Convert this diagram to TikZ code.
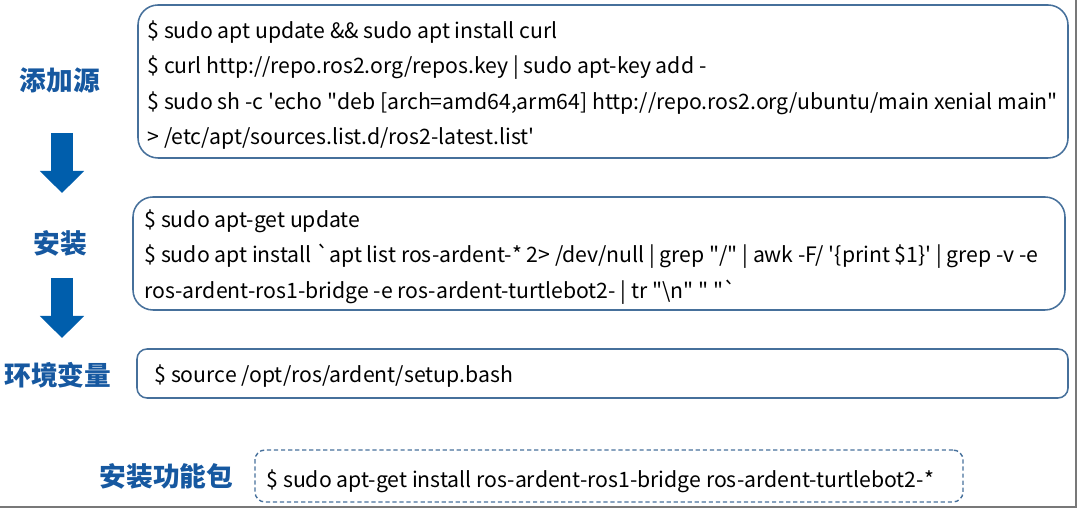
\documentclass[tikz,border=0pt]{standalone}
\usepackage{fontspec}
\setmainfont{Noto Sans CJK SC}
\usetikzlibrary{arrows.meta,positioning}
\definecolor{rosblue}{RGB}{0,94,172}
\definecolor{labblue}{RGB}{22,88,160}
\definecolor{boxline}{RGB}{70,112,155}
\definecolor{shadowgray}{RGB}{120,120,120}
\newcommand{\dq}{\textquotedbl}
\newcommand{\sq}{\textquotesingle}
\tikzset{
  cmdbox/.style={draw=boxline, line width=1.1pt, fill=white, rounded corners=0.5cm},
  cmdtxt/.style={anchor=west, align=left, inner sep=0pt, font=\fontsize{15.1}{25.2}\selectfont},
  steplab/.style={font=\fontsize{19}{19}\selectfont\bfseries, text=labblue},
  downarr/.style={-{Triangle[width=1.075cm, length=0.55cm]}, rosblue, line width=0.55cm},
  optbox/.style={draw=boxline, line width=1pt, dash pattern=on 3pt off 2pt, rounded corners=0.25cm},
}
\begin{document}
\begin{tikzpicture}
  \useasboundingbox (0,0) rectangle (27,12.825);
  \draw[shadowgray, line width=2pt] (0,0.15) -- (26.9,0.15) -- (26.9,12.825);
  % command boxes
  \node[cmdbox, minimum width=23.25cm, minimum height=3.825cm] (src) at (15.075,10.7875) {};
  \node[cmdbox, minimum width=23.3cm, minimum height=2.825cm] (inst) at (14.975,6.4875) {};
  \node[cmdbox, rounded corners=0.25cm, minimum width=23.275cm, minimum height=1.225cm] (envv) at (15.0625,3.4875) {};
  \node[optbox, minimum width=17.7cm, minimum height=1.3cm] (pkg) at (15.225,0.925) {};
  \node[cmdtxt] (srctxt) at ([xshift=0.25cm, yshift=-0.09cm]src.west)
    {\$ sudo apt update \&\& sudo apt install curl\\
     \$ curl http://repo.ros2.org/repos.key | sudo apt-key add -\\
     \$ sudo sh -c \sq echo \dq deb [arch=amd64,arm64] http://repo.ros2.org/ubuntu/main xenial main\dq\\
     > /etc/apt/sources.list.d/ros2-latest.list\sq};
  \node[cmdtxt] (insttxt) at ([xshift=0.3cm, yshift=-0.08cm]inst.west)
    {\$ sudo apt-get update\\
     \$ sudo apt install \textasciigrave apt list ros-ardent-* 2> /dev/null | grep \dq/\dq{} | awk -F/ \sq\{print \$1\}\sq{} | grep -v -e\\
     ros-ardent-ros1-bridge -e ros-ardent-turtlebot2- | tr \dq\textbackslash n\dq{} \dq{} \dq\textasciigrave};
  \node[cmdtxt] (envvtxt) at ([xshift=0.45cm, yshift=-0.07cm]envv.west) {\$ source /opt/ros/ardent/setup.bash};
  \node[cmdtxt] (pkgtxt) at ([xshift=0.3cm, yshift=-0.12cm]pkg.west)
    {\$ sudo apt-get install ros-ardent-ros1-bridge ros-ardent-turtlebot2-*};
  % step labels
  \node[steplab] (srclab) at (1.5,10.825) {添加源};
  \node[steplab] (instlab) at (1.5,6.75) {安装};
  \node[steplab] (envvlab) at (1.45,3.45) {环境变量};
  \node[steplab, left=0.4cm of pkg] (pkglab) {安装功能包};
  \coordinate (a1) at (1.55,9.5);
  \coordinate (b1) at (1.55,8.0);
  \coordinate (a2) at (1.55,5.875);
  \coordinate (b2) at (1.55,4.375);
  \draw[downarr] (a1) -- (b1);
  \draw[downarr] (a2) -- (b2);
\end{tikzpicture}
\end{document}
